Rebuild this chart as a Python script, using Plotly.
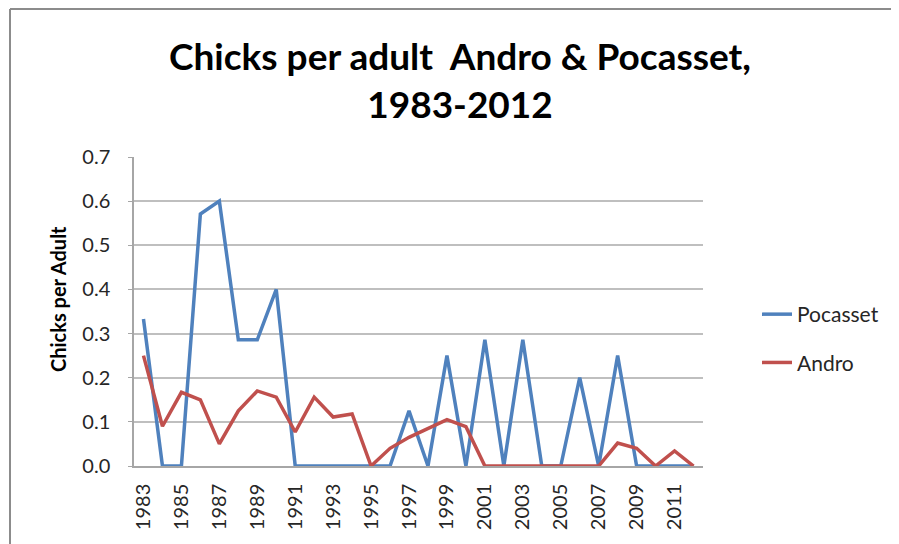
import plotly.graph_objects as go

years = [str(y) for y in range(1983, 2013)]
pocasset = [0.333, 0, 0, 0.571, 0.6, 0.286, 0.286, 0.4, 0, 0,
            0, 0, 0, 0, 0.125, 0, 0.25, 0, 0.286, 0,
            0.286, 0, 0, 0.2, 0, 0.25, 0, 0, 0, 0]
andro = [0.25, 0.09, 0.167, 0.15, 0.05, 0.125, 0.17, 0.156, 0.077, 0.156,
         0.111, 0.118, 0, 0.04, 0.065, 0.085, 0.105, 0.089, 0, 0,
         0, 0, 0, 0, 0, 0.052, 0.04, 0, 0.034, 0]
tick_years = [str(y) for y in range(1983, 2013, 2)]
y_ticks = [0, 0.1, 0.2, 0.3, 0.4, 0.5, 0.6, 0.7]

FONT = "Lato"
# the page body adds an 8px offset; layout numbers below compensate for it
W, H = 899, 544
fig = go.Figure()
fig.add_trace(go.Scatter(x=years, y=pocasset, mode="lines", name="Pocasset",
                         legendgroup="p",
                         line=dict(color="#4F81BD", width=3.5)))
fig.add_trace(go.Scatter(x=years, y=andro, mode="lines", name="Andro",
                         legendgroup="a",
                         line=dict(color="#C0504D", width=3.5)))

px_x = lambda v: (v - 134) / 569
px_y = lambda v: (466 - v) / 309
border = dict(color="#8C8C8C", width=2)

fig.update_layout(
    width=W, height=H,
    margin=dict(l=126, r=W - 695, t=149, b=H - 458),
    paper_bgcolor="white", plot_bgcolor="white",
    font=dict(family=FONT, color="#262626"),
    title=dict(text="<b>Chicks per adult  Andro &amp; Pocasset,<br>1983-2012</b>",
               x=px_x(460), xref="paper", xanchor="center",
               y=1 - 62 / H, yref="container", yanchor="middle",
               font=dict(family=FONT, size=37, color="#000000")),
    showlegend=True,
    legend=dict(x=px_x(757), xanchor="left", xref="paper",
                y=px_y(294), yanchor="top", yref="paper",
                font=dict(family=FONT, size=21, color="#262626"),
                tracegroupgap=18, traceorder="grouped",
                bgcolor="rgba(0,0,0,0)"),
    xaxis=dict(type="category", categoryorder="array", categoryarray=years,
               range=[-0.5, 29.5], tickmode="array", tickvals=tick_years,
               ticktext=tick_years, tickangle=-90, showgrid=False,
               showline=True, linecolor="#A6A6A6", linewidth=1.5,
               ticks="", ticklabelstandoff=8, automargin=False,
               tickfont=dict(family=FONT, size=20, color="#262626")),
    yaxis=dict(range=[0, 0.7], tickmode="array", tickvals=y_ticks,
               tickformat=".1f", showgrid=True, gridcolor="#BFBFBF",
               gridwidth=1.5, zeroline=False, showline=True,
               linecolor="#A6A6A6", linewidth=1.5, ticks="outside",
               ticklen=4, tickcolor="#A6A6A6", ticklabelstandoff=14,
               automargin=False,
               tickfont=dict(family=FONT, size=20, color="#262626")),
    annotations=[dict(text="<b>Chicks per Adult</b>", textangle=-90,
                      x=px_x(58), xref="paper", xanchor="center",
                      y=px_y(299), yref="paper", yanchor="middle",
                      showarrow=False,
                      font=dict(family=FONT, size=20, color="#000000"))],
    shapes=[
        dict(type="line", xref="paper", yref="paper",
             x0=px_x(10), x1=px_x(10), y0=px_y(560), y1=px_y(9),
             line=border, layer="below"),
        dict(type="line", xref="paper", yref="paper",
             x0=px_x(10), x1=px_x(960), y0=px_y(9), y1=px_y(9),
             line=border, layer="below"),
    ],
)

fig.write_html("out.html")
